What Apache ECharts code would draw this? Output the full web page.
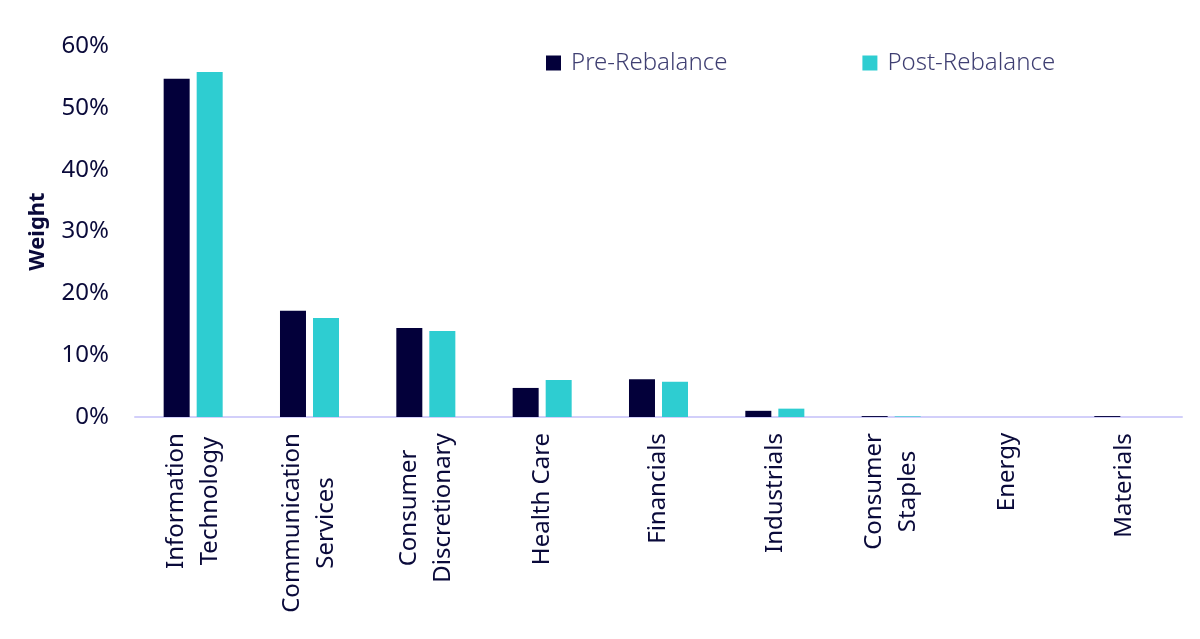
<!DOCTYPE html>
<html><head><meta charset="utf-8">
<script src="https://cdn.jsdelivr.net/npm/echarts@6/dist/echarts.min.js"></script>
<style>html,body{margin:0;padding:0;background:#fff}#c{width:1200px;height:639px}</style>
</head><body><div id="c"></div>
<script>
const categories = ["Information\nTechnology","Communication\nServices","Consumer\nDiscretionary","Health Care","Financials","Industrials","Consumer\nStaples","Energy","Materials"];
const preRebalance = [54.7, 17.2, 14.4, 4.7, 6.1, 1.0, 0.15, 0, 0.15];
const postRebalance = [55.8, 16.0, 13.9, 6.0, 5.7, 1.35, 0.1, 0, 0];
const yTicks = [0, 10, 20, 30, 40, 50, 60];

const FONT = "Noto Sans";
const XFS = 24;
const TXT = '#0a0a3a';
// measure text so multi-line rotated labels are centred line-by-line, ending at the axis
const ctx = document.createElement('canvas').getContext('2d');
ctx.font = XFS + 'px "' + FONT + '"';
const catItems = categories.map(c => {
  const mx = Math.max(...c.split('\n').map(l => ctx.measureText(l).width));
  return {value: c, textStyle: {align: 'center', padding: [0, Math.round(mx), 0, 0]}};
});

const chart = echarts.init(document.getElementById('c'));
chart.setOption({
  animation: false,
  textStyle: {fontFamily: FONT},
  legend: {
    left: 541, top: 46,
    itemWidth: 15, itemHeight: 15, itemGap: 135,
    icon: 'rect',
    textStyle: {fontFamily: FONT, fontSize: 24, color: '#3f3f72', fontWeight: 300, padding: [0,0,0,5]},
    data: ['Pre-Rebalance', 'Post-Rebalance']
  },
  grid: {left: 135, right: 18, top: 46, bottom: 222, containLabel: false},
  xAxis: {
    type: 'category', data: catItems,
    axisLine: {lineStyle: {color: '#d2cffa', width: 2}},
    axisTick: {show: false},
    axisLabel: {
      rotate: 90, margin: 16, interval: 0,
      color: TXT, fontFamily: FONT, fontSize: XFS, lineHeight: 34
    }
  },
  yAxis: {
    type: 'value', min: 0, max: 60, interval: 10,
    name: 'Weight', nameLocation: 'middle', nameGap: 86, nameRotate: 90,
    nameTextStyle: {fontFamily: FONT, fontSize: 22, fontWeight: 'bold', color: TXT},
    axisLine: {show: false}, axisTick: {show: false}, splitLine: {show: false},
    axisLabel: {
      margin: 26, color: TXT, fontFamily: FONT, fontSize: 24,
      formatter: v => yTicks.includes(v) ? v + '%' : ''
    }
  },
  series: [
    {name: 'Pre-Rebalance', type: 'bar', data: preRebalance, barWidth: 26, barGap: '27%',
     itemStyle: {color: '#03003a'}},
    {name: 'Post-Rebalance', type: 'bar', data: postRebalance, barWidth: 26,
     itemStyle: {color: '#2ecdd1'}}
  ]
});
</script></body></html>
